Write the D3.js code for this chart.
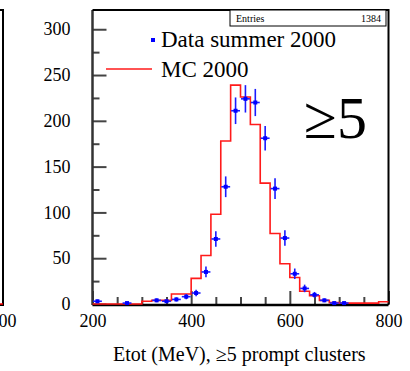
<!DOCTYPE html>
<html>
<head>
<meta charset="utf-8">
<script src="https://cdn.jsdelivr.net/npm/d3@7"></script>
<style>
body { margin: 0; background: #fff; }
svg { display: block; }
</style>
</head>
<body>
<div class="chart"></div>
<script>
// MC histogram: lower bin edges (MeV) and contents
var mcEdges = [200, 220, 240, 260, 280, 300, 320, 340, 360, 380, 400, 420, 440, 460, 480,
               500, 520, 540, 560, 580, 600, 620, 640, 660, 680, 700, 720, 740, 760, 780, 800];
var mcCounts = [0, 0, 0, 0, 0, 3, 4, 4, 11, 11, 28, 53, 98, 178, 239,
                226, 196, 132, 77, 44, 29, 14, 9, 4, 1.5, 1, 1, 1, 1, 2.5];

// data summer 2000: bin centres and counts
var dataX = [210, 270, 330, 350, 370, 390, 410, 430, 450, 470, 490, 510, 530, 550, 570, 590,
             610, 630, 650, 670, 690, 710];
var dataY = [3, 1, 4, 3, 5, 8, 12, 35, 71, 128, 211, 224, 220, 181, 126, 72,
             33, 17, 10, 4, 1, 1];

var xMajor = [200, 400, 600, 800];
var xMinor = [250, 300, 350, 450, 500, 550, 650, 700, 750];
var yMajor = [0, 50, 100, 150, 200, 250, 300];
var yMinor = [25, 75, 125, 175, 225, 275];
var entries = 1384;

var width = 410, height = 371;
var padL = 92.5, padR = 388.5, padT = 10, padB = 304;
var serif = "'Liberation Serif', 'DejaVu Serif', serif";
var tickColor = '#444';

var svg = d3.select('.chart').append('svg')
    .attr('width', width)
    .attr('height', height);

var x = d3.scaleLinear().domain([200, 800]).range([padL, padR]);
var y = d3.scaleLinear().domain([0, 321]).range([padB, padT]);

// left neighbour panel (only its edge is visible)
svg.append('path')
    .attr('d', 'M0,' + padT + 'H3V' + (padB + 1) + 'H0')
    .attr('fill', 'none').attr('stroke', '#000').attr('stroke-width', 2);
svg.append('line')
    .attr('x1', 0).attr('x2', 3).attr('y1', padB).attr('y2', padB)
    .attr('stroke', '#f00').attr('stroke-width', 1.5);
svg.append('text')
    .attr('x', 3).attr('y', 327)
    .attr('text-anchor', 'middle')
    .attr('font-family', serif).attr('font-size', 18)
    .text('800');

// axes
function styleAxis(g) {
    g.select('.domain').remove();
    g.selectAll('.tick line').attr('stroke', tickColor).attr('stroke-width', 2);
    g.selectAll('.tick text').attr('font-family', serif).attr('font-size', 18).attr('fill', '#000');
}

svg.append('g')
    .attr('transform', 'translate(' + padL + ',0)')
    .call(d3.axisLeft(y).tickValues(yMajor).tickSizeInner(-14).tickSizeOuter(0).tickPadding(22))
    .call(styleAxis);
svg.append('g')
    .attr('transform', 'translate(' + padL + ',0)')
    .call(d3.axisLeft(y).tickValues(yMinor).tickSizeInner(-7).tickSizeOuter(0).tickFormat(''))
    .call(styleAxis);

svg.append('g')
    .attr('transform', 'translate(0,' + padB + ')')
    .call(d3.axisBottom(x).tickValues(xMajor).tickSizeInner(-13).tickSizeOuter(0).tickPadding(10))
    .call(styleAxis);
svg.append('g')
    .attr('transform', 'translate(0,' + padB + ')')
    .call(d3.axisBottom(x).tickValues(xMinor).tickSizeInner(-7).tickSizeOuter(0).tickFormat(''))
    .call(styleAxis);

// frame
svg.append('line')
    .attr('x1', padL).attr('x2', padL).attr('y1', padT).attr('y2', padB + 1)
    .attr('stroke', '#333').attr('stroke-width', 2.5);
svg.append('path')
    .attr('d', 'M' + padL + ',' + padT + 'H' + padR + 'V' + (padB + 1))
    .attr('fill', 'none').attr('stroke', '#000').attr('stroke-width', 2);
svg.append('line')
    .attr('x1', padL).attr('x2', padR).attr('y1', padB + 1).attr('y2', padB + 1)
    .attr('stroke', '#000').attr('stroke-width', 2.5);

// MC step histogram
var steps = [];
for (var i = 0; i < mcCounts.length; i++) {
    steps.push([mcEdges[i], mcCounts[i]]);
    steps.push([mcEdges[i + 1], mcCounts[i]]);
}
svg.append('path')
    .datum(steps)
    .attr('d', d3.line().x(function(d){ return x(d[0]); }).y(function(d){ return y(d[1]); }))
    .attr('fill', 'none')
    .attr('stroke', '#ff1a1a')
    .attr('stroke-width', 1.6);

// data points with error bars
var xErr = 9;
var pts = svg.append('g');
for (i = 0; i < dataX.length; i++) {
    var cx = x(dataX[i]), cy = y(dataY[i]);
    var err = Math.sqrt(dataY[i]);
    pts.append('line')
        .attr('x1', cx).attr('x2', cx)
        .attr('y1', y(dataY[i] + err)).attr('y2', y(Math.max(dataY[i] - err, 0)))
        .attr('stroke', '#1a1aff').attr('stroke-width', 1.6);
    pts.append('line')
        .attr('x1', x(dataX[i] - xErr)).attr('x2', x(dataX[i] + xErr))
        .attr('y1', cy).attr('y2', cy)
        .attr('stroke', '#1a1aff').attr('stroke-width', 1.6);
    pts.append('rect')
        .attr('x', cx - 2).attr('y', cy - 2)
        .attr('width', 4).attr('height', 4)
        .attr('fill', '#0000ff');
}

// stats box
svg.append('rect')
    .attr('x', 230).attr('y', padT).attr('width', 156).attr('height', 16)
    .attr('fill', '#fff').attr('stroke', '#000').attr('stroke-width', 1);
svg.append('text')
    .attr('x', 236).attr('y', 22)
    .attr('font-family', serif).attr('font-size', 10)
    .text('Entries');
svg.append('text')
    .attr('x', 381).attr('y', 22)
    .attr('text-anchor', 'end')
    .attr('font-family', serif).attr('font-size', 10)
    .text(entries);

// legend
svg.append('rect')
    .attr('x', 151).attr('y', 38).attr('width', 4).attr('height', 4)
    .attr('fill', '#0000ff');
svg.append('text')
    .attr('x', 161).attr('y', 47)
    .attr('font-family', serif).attr('font-size', 23)
    .text('Data summer 2000');
svg.append('line')
    .attr('x1', 106).attr('x2', 152).attr('y1', 69).attr('y2', 69)
    .attr('stroke', '#ff1a1a').attr('stroke-width', 1.6);
svg.append('text')
    .attr('x', 161).attr('y', 77)
    .attr('font-family', serif).attr('font-size', 23)
    .text('MC 2000');

// big label
svg.append('text')
    .attr('x', 304).attr('y', 138)
    .attr('font-family', serif).attr('font-size', 60)
    .text('\u22655');

// x title
svg.append('text')
    .attr('x', 113).attr('y', 361)
    .attr('font-family', serif).attr('font-size', 20)
    .text('Etot (MeV), \u22655 prompt clusters');
</script>
</body>
</html>
